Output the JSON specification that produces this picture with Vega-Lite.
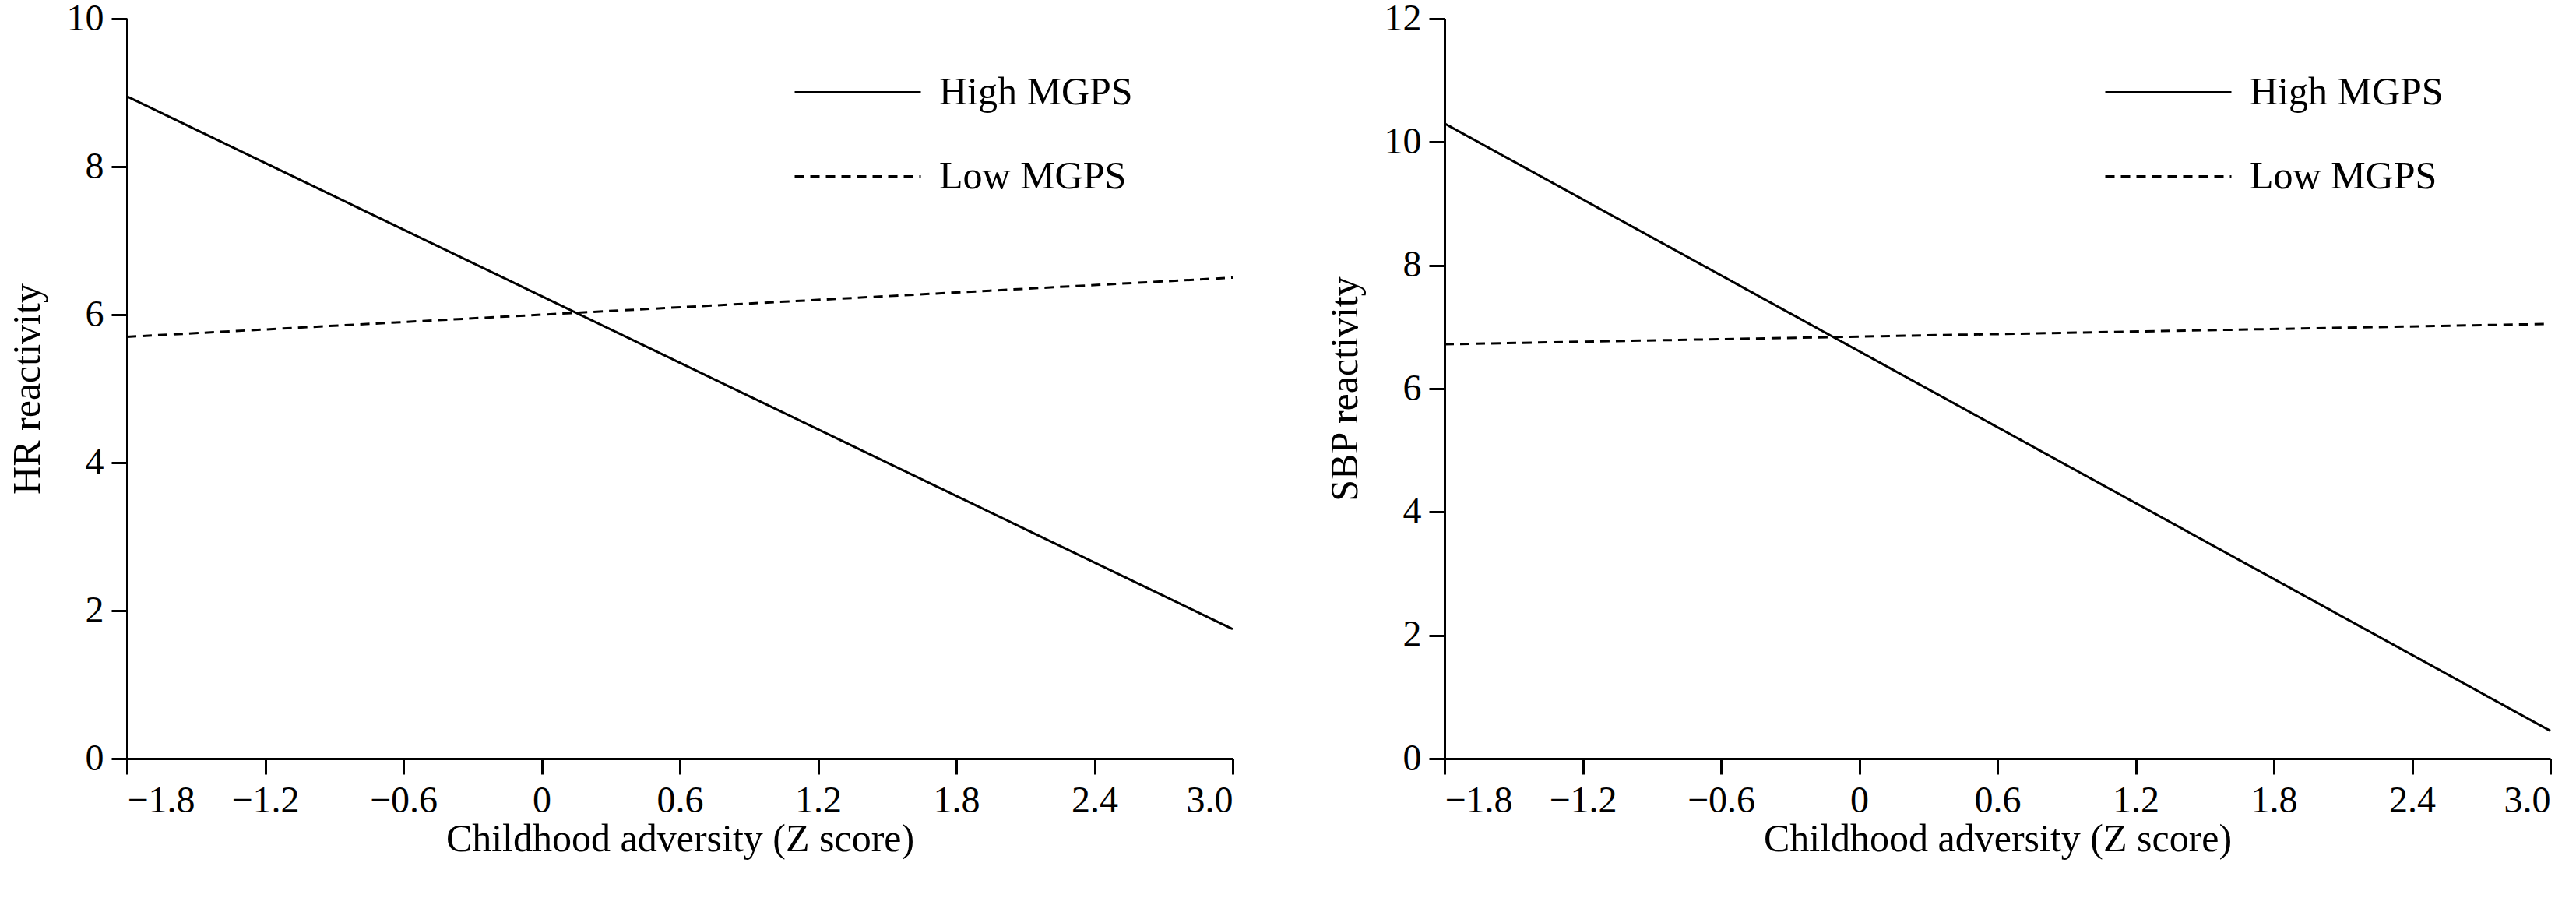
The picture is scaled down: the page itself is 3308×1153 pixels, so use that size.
{
  "$schema": "https://vega.github.io/schema/vega-lite/v6.json",
  "background": "white",
  "padding": {"left": 10, "top": 0, "right": 30, "bottom": 10},
  "spacing": 113,
  "config": {
    "font": "Liberation Serif",
    "view": {"stroke": null},
    "axis": {
      "grid": false, "domainColor": "black", "tickColor": "black", "domainWidth": 3, "tickWidth": 3,
      "tickSize": 20, "labelFontSize": 48, "titleFontSize": 50, "labelColor": "black", "titleColor": "black",
      "titleFontWeight": "normal", "labelFont": "Liberation Serif", "titleFont": "Liberation Serif"
    },
    "legend": {"labelFontSize": 50, "labelFont": "Liberation Serif", "labelColor": "black", "labelLimit": 0}
  },
  "datasets": {
    "hr": [
      {"x": -1.8, "y": 8.95, "g": "High MGPS"}, {"x": 3.0, "y": 1.75, "g": "High MGPS"},
      {"x": -1.8, "y": 5.7, "g": "Low MGPS"}, {"x": 3.0, "y": 6.5, "g": "Low MGPS"}
    ],
    "sbp": [
      {"x": -1.8, "y": 10.3, "g": "High MGPS"}, {"x": 3.0, "y": 0.45, "g": "High MGPS"},
      {"x": -1.8, "y": 6.72, "g": "Low MGPS"}, {"x": 3.0, "y": 7.05, "g": "Low MGPS"}
    ]
  },
  "resolve": {"legend": {"strokeDash": "independent"}, "scale": {"y": "independent"}},
  "hconcat": [
    {
      "width": 1420, "height": 950,
      "data": {"name": "hr"},
      "mark": {"type": "line", "color": "black", "strokeWidth": 3},
      "encoding": {
        "x": {"field": "x", "type": "quantitative", "scale": {"domain": [-1.8, 3.0], "nice": false, "zero": false},
          "axis": {"values": [-1.8, -1.2, -0.6, 0, 0.6, 1.2, 1.8, 2.4, 3.0], "labelExpr": "replace(format(datum.value, datum.value == 0 ? 'd' : '.1f'), '-', '−')", "title": "Childhood adversity (Z score)", "titlePadding": 0, "labelPadding": 10}},
        "y": {"field": "y", "type": "quantitative", "scale": {"domain": [0, 10]},
          "axis": {"values": [0, 2, 4, 6, 8, 10], "title": "HR reactivity", "titlePadding": 25, "labelPadding": 10}},
        "strokeDash": {"field": "g", "type": "nominal", "scale": {"domain": ["High MGPS", "Low MGPS"], "range": [[1, 0], [12, 8]]},
          "legend": {"title": null, "orient": "none", "legendX": 856, "legendY": 12, "symbolType": "stroke", "symbolSize": 26244, "symbolStrokeWidth": 3, "symbolStrokeColor": "black", "rowPadding": -31, "labelOffset": 22}}
      }
    },
    {
      "width": 1420, "height": 950,
      "data": {"name": "sbp"},
      "mark": {"type": "line", "color": "black", "strokeWidth": 3},
      "encoding": {
        "x": {"field": "x", "type": "quantitative", "scale": {"domain": [-1.8, 3.0], "nice": false, "zero": false},
          "axis": {"values": [-1.8, -1.2, -0.6, 0, 0.6, 1.2, 1.8, 2.4, 3.0], "labelExpr": "replace(format(datum.value, datum.value == 0 ? 'd' : '.1f'), '-', '−')", "title": "Childhood adversity (Z score)", "titlePadding": 0, "labelPadding": 10}},
        "y": {"field": "y", "type": "quantitative", "scale": {"domain": [0, 12]},
          "axis": {"values": [0, 2, 4, 6, 8, 10, 12], "title": "SBP reactivity", "titlePadding": 25, "labelPadding": 10}},
        "strokeDash": {"field": "g", "type": "nominal", "scale": {"domain": ["High MGPS", "Low MGPS"], "range": [[1, 0], [12, 8]]},
          "legend": {"title": null, "orient": "none", "legendX": 847, "legendY": 12, "symbolType": "stroke", "symbolSize": 26244, "symbolStrokeWidth": 3, "symbolStrokeColor": "black", "rowPadding": -31, "labelOffset": 22}}
      }
    }
  ]
}
